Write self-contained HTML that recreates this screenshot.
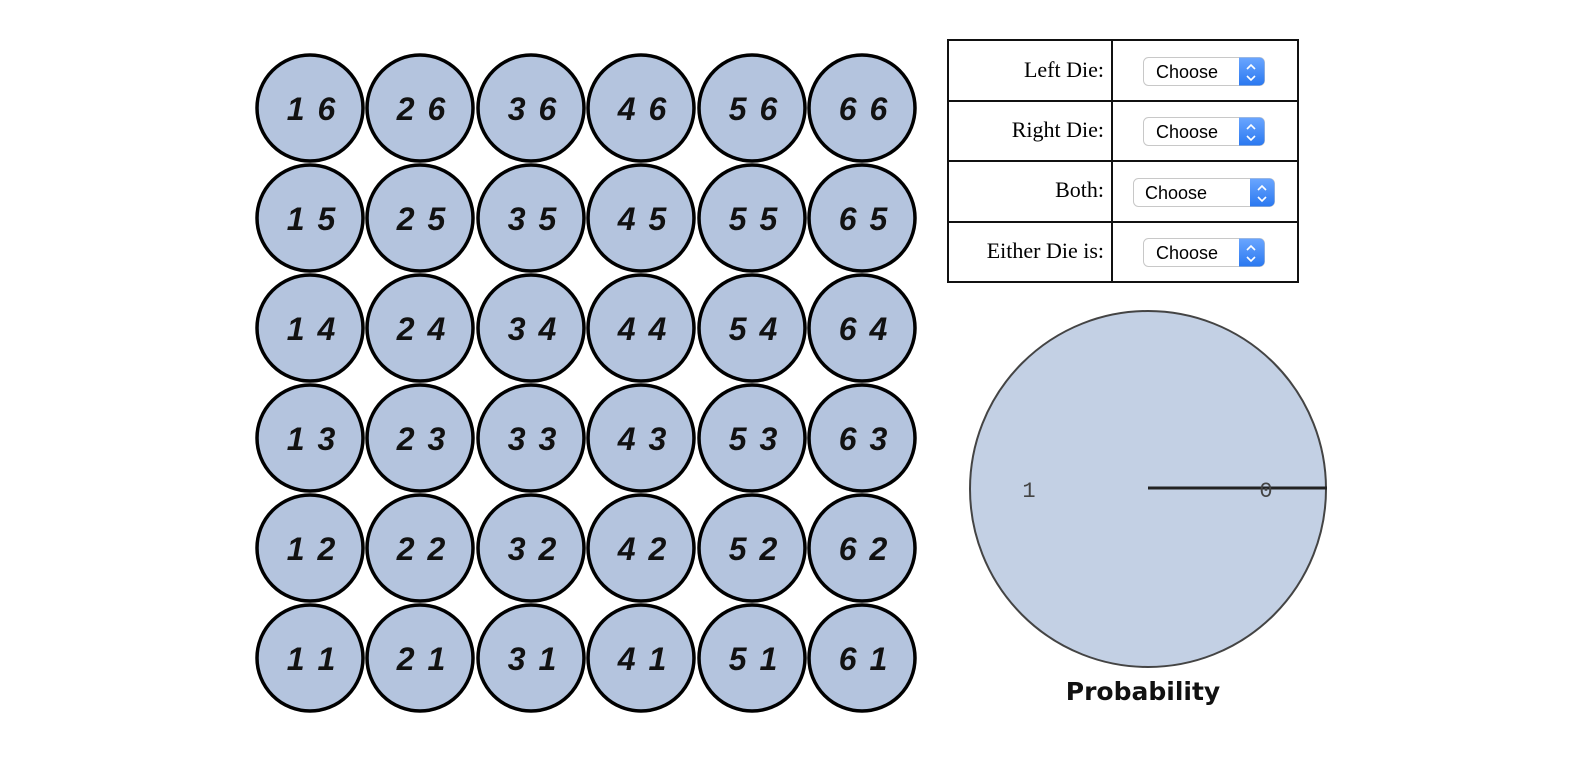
<!DOCTYPE html>
<html><head><meta charset="utf-8"><style>
body{margin:0;background:#fff;width:1592px;height:768px;overflow:hidden}
</style></head><body>
<svg width="1592" height="768" xmlns="http://www.w3.org/2000/svg">
<defs>
<linearGradient id="bl" x1="0" y1="0" x2="0" y2="1"><stop offset="0" stop-color="#6aa6ff"/><stop offset="1" stop-color="#2a78f0"/></linearGradient>
</defs>
<g font-family="Liberation Sans, sans-serif" font-weight="bold" font-style="italic" font-size="32" text-anchor="middle">
<g fill="#b4c4de" stroke="#000" stroke-width="3.5">
<circle cx="310" cy="108" r="53"/><circle cx="420" cy="108" r="53"/><circle cx="531" cy="108" r="53"/><circle cx="641" cy="108" r="53"/><circle cx="752" cy="108" r="53"/><circle cx="862" cy="108" r="53"/>
<circle cx="310" cy="218" r="53"/><circle cx="420" cy="218" r="53"/><circle cx="531" cy="218" r="53"/><circle cx="641" cy="218" r="53"/><circle cx="752" cy="218" r="53"/><circle cx="862" cy="218" r="53"/>
<circle cx="310" cy="328" r="53"/><circle cx="420" cy="328" r="53"/><circle cx="531" cy="328" r="53"/><circle cx="641" cy="328" r="53"/><circle cx="752" cy="328" r="53"/><circle cx="862" cy="328" r="53"/>
<circle cx="310" cy="438" r="53"/><circle cx="420" cy="438" r="53"/><circle cx="531" cy="438" r="53"/><circle cx="641" cy="438" r="53"/><circle cx="752" cy="438" r="53"/><circle cx="862" cy="438" r="53"/>
<circle cx="310" cy="548" r="53"/><circle cx="420" cy="548" r="53"/><circle cx="531" cy="548" r="53"/><circle cx="641" cy="548" r="53"/><circle cx="752" cy="548" r="53"/><circle cx="862" cy="548" r="53"/>
<circle cx="310" cy="658" r="53"/><circle cx="420" cy="658" r="53"/><circle cx="531" cy="658" r="53"/><circle cx="641" cy="658" r="53"/><circle cx="752" cy="658" r="53"/><circle cx="862" cy="658" r="53"/>
</g>
<g fill="#111" letter-spacing="2">
<text x="312" y="120">1 6</text><text x="422" y="120">2 6</text><text x="533" y="120">3 6</text><text x="643" y="120">4 6</text><text x="754" y="120">5 6</text><text x="864" y="120">6 6</text>
<text x="312" y="230">1 5</text><text x="422" y="230">2 5</text><text x="533" y="230">3 5</text><text x="643" y="230">4 5</text><text x="754" y="230">5 5</text><text x="864" y="230">6 5</text>
<text x="312" y="340">1 4</text><text x="422" y="340">2 4</text><text x="533" y="340">3 4</text><text x="643" y="340">4 4</text><text x="754" y="340">5 4</text><text x="864" y="340">6 4</text>
<text x="312" y="450">1 3</text><text x="422" y="450">2 3</text><text x="533" y="450">3 3</text><text x="643" y="450">4 3</text><text x="754" y="450">5 3</text><text x="864" y="450">6 3</text>
<text x="312" y="560">1 2</text><text x="422" y="560">2 2</text><text x="533" y="560">3 2</text><text x="643" y="560">4 2</text><text x="754" y="560">5 2</text><text x="864" y="560">6 2</text>
<text x="312" y="670">1 1</text><text x="422" y="670">2 1</text><text x="533" y="670">3 1</text><text x="643" y="670">4 1</text><text x="754" y="670">5 1</text><text x="864" y="670">6 1</text>
</g>
</g>

<g fill="none" stroke="#111" stroke-width="2">
<rect x="948" y="40" width="350" height="242"/>
<line x1="1112" y1="40" x2="1112" y2="282"/>
<line x1="948" y1="101" x2="1298" y2="101"/>
<line x1="948" y1="161" x2="1298" y2="161"/>
<line x1="948" y1="222" x2="1298" y2="222"/>
</g>
<g font-family="Liberation Serif, serif" font-size="22" text-anchor="end" fill="#000">
<text x="1104" y="77">Left Die:</text>
<text x="1104" y="137">Right Die:</text>
<text x="1104" y="197">Both:</text>
<text x="1104" y="258">Either Die is:</text>
</g>
<g font-family="Liberation Sans, sans-serif" font-size="18" fill="#000">
<g>
<rect x="1143.5" y="57.5" width="121" height="28" rx="5" fill="#fff" stroke="#c8c8c8"/>
<path d="M1239 57.5h20.5a5 5 0 0 1 5 5v18a5 5 0 0 1-5 5h-20.5z" fill="url(#bl)"/>
<path d="M1247 69l4-4 4 4M1247 76l4 4 4-4" stroke="#fff" stroke-width="1.6" fill="none"/>
<text x="1156" y="78">Choose</text>
</g>
<g>
<rect x="1143.5" y="117.5" width="121" height="28" rx="5" fill="#fff" stroke="#c8c8c8"/>
<path d="M1239 117.5h20.5a5 5 0 0 1 5 5v18a5 5 0 0 1-5 5h-20.5z" fill="url(#bl)"/>
<path d="M1247 129l4-4 4 4M1247 136l4 4 4-4" stroke="#fff" stroke-width="1.6" fill="none"/>
<text x="1156" y="138">Choose</text>
</g>
<g>
<rect x="1133.5" y="178.5" width="141" height="28" rx="5" fill="#fff" stroke="#c8c8c8"/>
<path d="M1250 178.5h19.5a5 5 0 0 1 5 5v18a5 5 0 0 1-5 5h-19.5z" fill="url(#bl)"/>
<path d="M1258 190l4-4 4 4M1258 197l4 4 4-4" stroke="#fff" stroke-width="1.6" fill="none"/>
<text x="1145" y="199">Choose</text>
</g>
<g>
<rect x="1143.5" y="238.5" width="121" height="28" rx="5" fill="#fff" stroke="#c8c8c8"/>
<path d="M1239 238.5h20.5a5 5 0 0 1 5 5v18a5 5 0 0 1-5 5h-20.5z" fill="url(#bl)"/>
<path d="M1247 250l4-4 4 4M1247 257l4 4 4-4" stroke="#fff" stroke-width="1.6" fill="none"/>
<text x="1156" y="259">Choose</text>
</g>
</g>

<circle cx="1148" cy="489" r="178" fill="#c3d0e4" stroke="#444" stroke-width="2"/>
<line x1="1148" y1="488" x2="1327" y2="488" stroke="#222" stroke-width="3"/>
<g font-family="Liberation Mono, monospace" font-size="22" fill="#444" text-anchor="middle">
<text x="1029" y="497">1</text>
<text x="1266" y="497">0</text>
</g>
<text x="1143" y="700" font-family="DejaVu Sans, sans-serif" font-weight="bold" font-size="25" text-anchor="middle" fill="#111">Probability</text>
</svg>
</body></html>
